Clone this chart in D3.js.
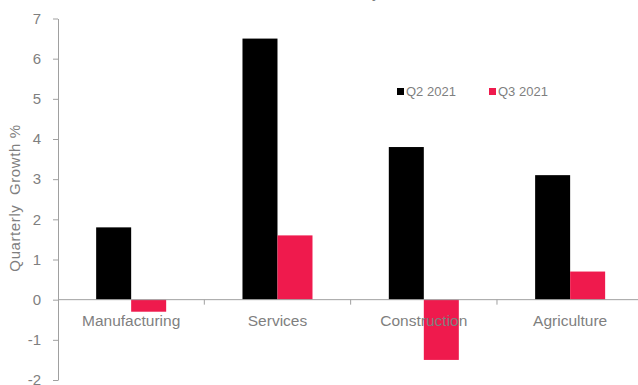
<!DOCTYPE html>
<html>
<head>
<meta charset="utf-8">
<script src="https://cdn.jsdelivr.net/npm/d3@7"></script>
<style>
  body { margin: 0; background: #fff; }
  text { font-family: "Liberation Sans", Arial, sans-serif; }
</style>
</head>
<body>
<script>
var svgW = 638;
var svgH = 385;

var sectors = ["Manufacturing", "Services", "Construction", "Agriculture"];
var seriesNames = ["Q2 2021", "Q3 2021"];
var q2 = [1.8, 6.5, 3.8, 3.1];
var q3 = [-0.3, 1.6, -1.5, 0.7];
var yTicks = [-2, -1, 0, 1, 2, 3, 4, 5, 6, 7];

var colors = ["#000000", "#ef1a4d"];
var grey = "#7f7f7f";
var axisGrey = "#a0a0a0";

var svg = d3.select("body")
  .append("svg")
  .attr("width", svgW)
  .attr("height", svgH);

var y = d3.scaleLinear().domain([-2, 7]).range([380, 18.5]);

var x0 = d3.scaleBand()
  .domain(sectors)
  .range([58, 643.3]);

var x1 = d3.scaleBand()
  .domain(seriesNames)
  .range([0, x0.bandwidth()])
  .paddingOuter(1.09);

// title, mostly above the visible area
svg.append("text")
  .attr("x", 380)
  .attr("y", -2)
  .attr("text-anchor", "end")
  .attr("font-size", "16px")
  .attr("fill", grey)
  .text("Sector Growth in the Economy");

// bars
var rows = sectors.map(function(s, i) {
  return { sector: s, values: [q2[i], q3[i]] };
});

var groups = svg.selectAll("g.grp")
  .data(rows)
  .enter()
  .append("g")
  .attr("class", "grp")
  .attr("transform", function(d) { return "translate(" + x0(d.sector) + ",0)"; });

groups.selectAll("rect")
  .data(function(d) {
    return d.values.map(function(v, j) { return { name: seriesNames[j], v: v, j: j }; });
  })
  .enter()
  .append("rect")
  .attr("x", function(d) { return x1(d.name); })
  .attr("width", x1.bandwidth())
  .attr("y", function(d) { return y(Math.max(0, d.v)); })
  .attr("height", function(d) { return Math.abs(y(d.v) - y(0)); })
  .attr("fill", function(d) { return colors[d.j]; });

// y axis
var yAxis = svg.append("g")
  .attr("transform", "translate(58,0)")
  .call(d3.axisLeft(y).tickValues(yTicks).tickSize(5).tickPadding(12).tickSizeOuter(0)
    .tickFormat(function(d) { return String(d); }));
yAxis.select(".domain").attr("stroke", axisGrey);
yAxis.selectAll(".tick line").attr("stroke", axisGrey);
yAxis.selectAll(".tick text")
  .attr("fill", grey)
  .attr("font-size", "15px")
  .attr("font-family", "Liberation Sans, Arial, sans-serif");

// x axis on zero line
var xAxis = svg.append("g")
  .attr("transform", "translate(0," + y(0) + ")");
xAxis.append("line")
  .attr("x1", 58).attr("x2", svgW)
  .attr("stroke", axisGrey);
xAxis.selectAll("line.tk")
  .data(sectors.slice(1))
  .enter()
  .append("line")
  .attr("class", "tk")
  .attr("x1", function(d) { return x0(d); })
  .attr("x2", function(d) { return x0(d); })
  .attr("y1", 0).attr("y2", 5)
  .attr("stroke", axisGrey);
xAxis.selectAll("text")
  .data(sectors)
  .enter()
  .append("text")
  .attr("x", function(d) { return x0(d) + x0.bandwidth() / 2; })
  .attr("y", 26)
  .attr("text-anchor", "middle")
  .attr("font-size", "15.5px")
  .attr("fill", grey)
  .text(function(d) { return d; });

// y label
svg.append("text")
  .attr("transform", "translate(20,198) rotate(-90)")
  .attr("text-anchor", "middle")
  .attr("font-size", "15px")
  .attr("letter-spacing", "0.6px")
  .attr("fill", grey)
  .style("white-space", "pre")
  .text("Quarterly  Growth %");

// legend
var legend = svg.selectAll("g.leg")
  .data(seriesNames)
  .enter()
  .append("g")
  .attr("class", "leg")
  .attr("transform", function(d, i) { return "translate(" + (397 + i * 92) + ",88)"; });
legend.append("rect")
  .attr("width", 7).attr("height", 7)
  .attr("fill", function(d, i) { return colors[i]; });
legend.append("text")
  .attr("x", 9)
  .attr("y", 8)
  .attr("font-size", "13px")
  .attr("fill", grey)
  .text(function(d) { return d; });
</script>
</body>
</html>
